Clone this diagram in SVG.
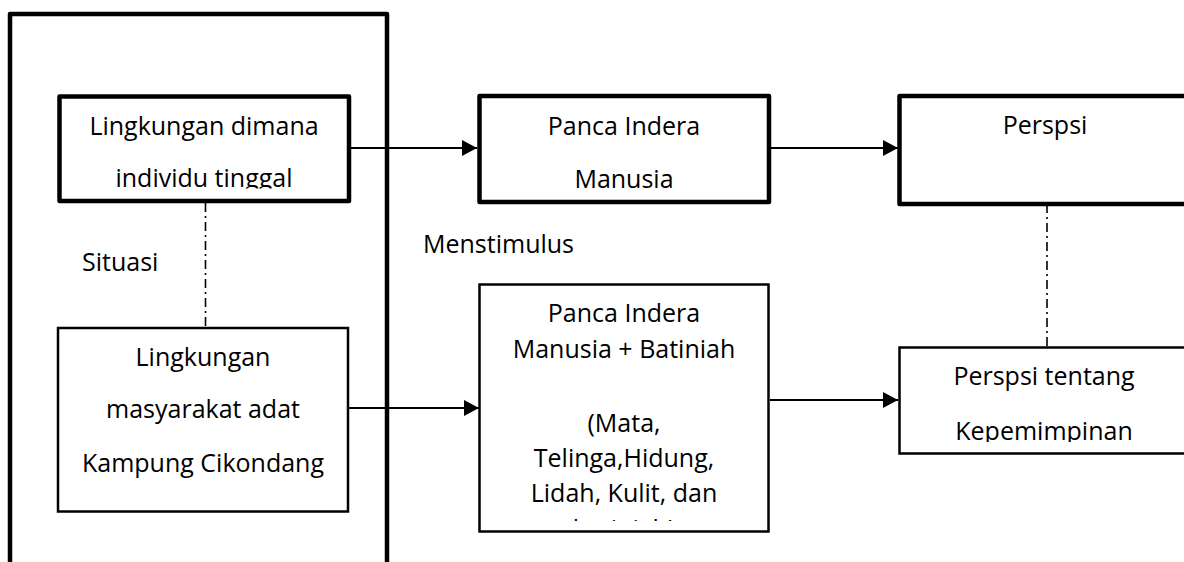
<svg xmlns="http://www.w3.org/2000/svg" width="1184" height="562" viewBox="0 0 1184 562">
<style>
.thick{fill:#fff;stroke:#000;stroke-width:4.5;stroke-linejoin:round}
.thin{fill:#fff;stroke:#000;stroke-width:2.5}
.t{font-family:"Open Sans","Noto Sans",sans-serif;font-size:25px;fill:#000}
.m{text-anchor:middle}
.arrow{stroke:#000;stroke-width:2;fill:none;marker-end:url(#ah)}
.dd{stroke:#000;stroke-width:1.6;fill:none;stroke-dasharray:9 4 2 4}
</style>
<defs>
<marker id="ah" markerUnits="userSpaceOnUse" markerWidth="15" markerHeight="16" refX="15" refY="8" orient="auto">
<path d="M0,0 L15,8 L0,16 Z" fill="#000"/>
</marker>
<clipPath id="c1"><rect x="60" y="99" width="288" height="89.5"/></clipPath>
<clipPath id="c3"><rect x="480" y="99" width="288" height="91"/></clipPath>
<clipPath id="c5"><rect x="480" y="286" width="288" height="235"/></clipPath>
<clipPath id="c6"><rect x="900" y="349" width="284" height="93"/></clipPath>
</defs>
<rect width="1184" height="562" fill="#fff"/>
<g id="outer"><rect class="thick" x="10" y="14" width="377" height="560" style="fill:none"/></g>
<g id="connectors">
<line class="arrow" x1="351" y1="148" x2="477" y2="148"/>
<line class="arrow" x1="771" y1="148" x2="898" y2="148"/>
<line class="arrow" x1="349" y1="408" x2="479" y2="408"/>
<line class="arrow" x1="770" y1="400" x2="898" y2="400"/>
<line class="dd" x1="205.5" y1="203" x2="205.5" y2="327"/>
<line class="dd" x1="1047" y1="204" x2="1047" y2="346"/>
</g>
<g id="n1">
<rect class="thick" x="59.5" y="96.5" width="289.5" height="104.5"/>
<g clip-path="url(#c1)">
<text class="t m" x="204" y="135">Lingkungan dimana</text>
<text class="t m" x="204" y="187">individu tinggal</text>
</g>
</g>
<g id="n2">
<rect class="thin" x="58" y="328" width="290" height="183.5"/>
<text class="t m" x="203" y="366">Lingkungan</text>
<text class="t m" x="203" y="418">masyarakat adat</text>
<text class="t m" x="203" y="472">Kampung Cikondang</text>
</g>
<g id="n3">
<rect class="thick" x="479.5" y="96" width="289.5" height="106"/>
<g clip-path="url(#c3)">
<text class="t m" x="624" y="135">Panca Indera</text>
<text class="t m" x="624" y="188">Manusia</text>
</g>
</g>
<g id="n4">
<rect class="thick" x="899.5" y="96" width="292" height="108"/>
<text class="t m" x="1045" y="134">Perspsi</text>
</g>
<g id="n5">
<rect class="thin" x="479.5" y="284.5" width="289" height="247"/>
<g clip-path="url(#c5)">
<text class="t m" x="624" y="322">Panca Indera</text>
<text class="t m" x="624" y="358">Manusia + Batiniah</text>
<text class="t m" x="624" y="432">(Mata,</text>
<text class="t m" x="624" y="467">Telinga,Hidung,</text>
<text class="t m" x="624" y="502">Lidah, Kulit, dan</text>
<text class="t m" x="624" y="538">batiniah)</text>
</g>
</g>
<g id="n6">
<rect class="thin" x="899.5" y="347.5" width="292" height="106"/>
<g clip-path="url(#c6)">
<text class="t m" x="1044" y="385">Perspsi tentang</text>
<text class="t m" x="1044" y="440">Kepemimpinan</text>
</g>
</g>
<g id="labels">
<text class="t" x="82" y="271">Situasi</text>
<text class="t" x="423" y="253">Menstimulus</text>
</g>
</svg>
